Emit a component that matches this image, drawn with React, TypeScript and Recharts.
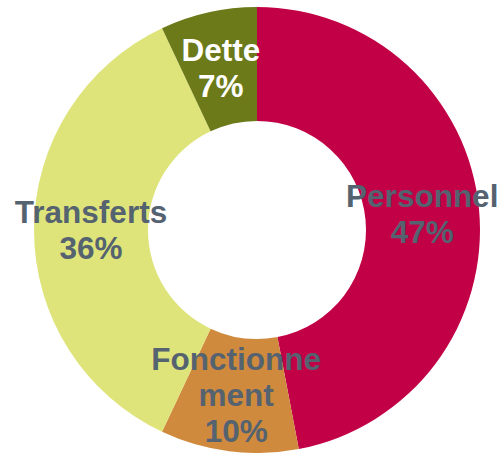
import React from "react";
import { PieChart, Pie, Cell } from "recharts";

const categories = ["Personnel", "Fonctionnement", "Transferts", "Dette"];
const labelLines = [["Personnel"], ["Fonctionne", "ment"], ["Transferts"], ["Dette"]];
const shares = [47, 10, 36, 7];
const colors = ["#C20046", "#D08A3E", "#DEE47A", "#6C7A19"];
const textColors = ["#556270", "#556270", "#556270", "#FFFFFF"];

const data = categories.map((name, i) => ({ name, value: shares[i] }));

const RADIAN = Math.PI / 180;

function renderLabel(props: any) {
  const { cx, cy, midAngle, innerRadius, outerRadius, index } = props;
  const r = (innerRadius + outerRadius) / 2;
  const x = cx + r * Math.cos(-midAngle * RADIAN);
  const y = cy + r * Math.sin(-midAngle * RADIAN);
  const lines = [...labelLines[index], `${shares[index]}%`];
  const lh = 36;
  const y0 = y - ((lines.length - 1) * lh) / 2;
  return (
    <text
      x={x}
      y={y0}
      textAnchor="middle"
      dominantBaseline="central"
      fill={textColors[index]}
      fontFamily="'Liberation Sans', Arial, sans-serif"
      fontWeight="bold"
      fontSize={31.5}
    >
      {lines.map((l, i) => (
        <tspan key={i} x={x} y={y0 + i * lh}>
          {l}
        </tspan>
      ))}
    </text>
  );
}

export default function App() {
  return (
    <div style={{ position: "absolute", left: 0, top: 0, background: "#fff" }}>
      <PieChart width={502} height={453} margin={{ top: 0, right: 0, bottom: 0, left: 0 }}>
        <Pie
          data={data}
          dataKey="value"
          nameKey="name"
          cx={257}
          cy={230}
          innerRadius={109}
          outerRadius={223}
          startAngle={90}
          endAngle={-270}
          stroke="none"
          label={renderLabel}
          labelLine={false}
          isAnimationActive={false}
        >
          {data.map((d, i) => (
            <Cell key={d.name} fill={colors[i]} />
          ))}
        </Pie>
      </PieChart>
    </div>
  );
}
